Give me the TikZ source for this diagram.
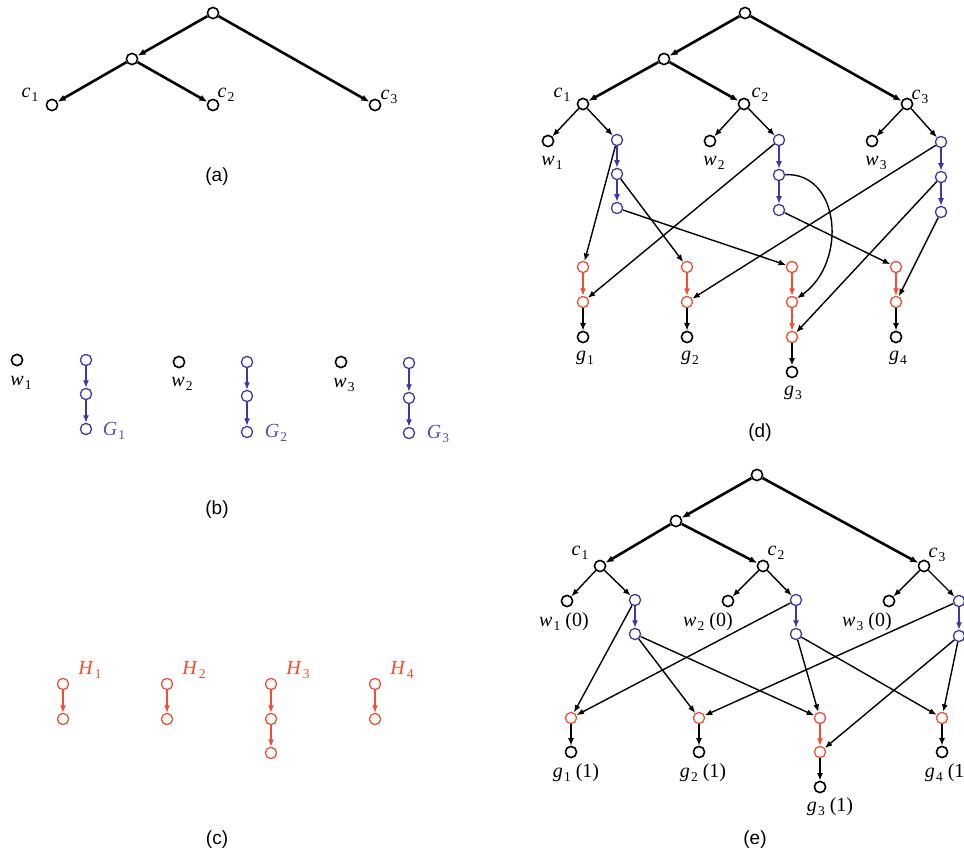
\documentclass[tikz,border=0pt]{standalone}
\usepackage{fontspec}
\setmainfont{Liberation Serif}
\newfontfamily\capfont{Liberation Sans}
\usetikzlibrary{arrows.meta}

\definecolor{gblue}{RGB}{58,58,160}
\definecolor{gbluetxt}{RGB}{80,80,180}
\definecolor{hred}{RGB}{240,78,48}

% italic letter with an upright index
\newcommand{\idx}[2]{\textit{#1}\kern1.2pt\raisebox{-0.42ex}{\fontsize{13.5}{13.5}\selectfont #2}}

\tikzset{
  vtx/.style={circle, inner sep=0pt, minimum size=11.2pt, fill=white},
  cn/.style={vtx, draw=black, line width=1.6pt},
  bn/.style={vtx, draw=gblue, line width=1.3pt},
  rn/.style={vtx, draw=hred, line width=1.3pt},
  thk/.style={line width=2.6pt, -{Latex[length=8pt,width=6.5pt]}},
  thn/.style={line width=1.4pt, -{Latex[length=7.5pt,width=6pt]}},
  bar/.style={gblue, line width=1.3pt, -{Latex[length=7.5pt,width=6pt]}},
  rar/.style={hred, line width=1.3pt, -{Latex[length=7.5pt,width=6pt]}},
  lab/.style={inner sep=0pt, font=\fontsize{20}{20}\selectfont},
  captxt/.style={inner sep=0pt, font=\capfont\fontsize{19}{19}\selectfont},
}

\begin{document}
\begin{tikzpicture}[x=1pt, y=-1pt]
\useasboundingbox (0,0) rectangle (964,853);
\fill[white] (0,0) rectangle (964,853);

% ---------------- (a) the tree of classes ----------------
\node[cn] (ar)  at (213,13)  {};
\node[cn] (am)  at (132,59)  {};
\node[cn] (ac1) at (52,105)  {};
\node[cn] (ac2) at (213,105) {};
\node[cn] (ac3) at (375,105) {};
\draw[thk] (ar) -- (am);
\draw[thk] (am) -- (ac1);
\draw[thk] (am) -- (ac2);
\draw[thk] (ar) -- (ac3);
\node[lab] (alc1) at (30,95)  {\idx{c}{1}};
\node[lab] (alc2) at (226,95) {\idx{c}{2}};
\node[lab] (alc3) at (389,97) {\idx{c}{3}};
\node[captxt] (capa) at (217,177) {(a)};

% ---------------- (b) words and G chains ----------------
\node[cn] (bw1) at (17,360)  {};
\node[cn] (bw2) at (179,362) {};
\node[cn] (bw3) at (341,362) {};
\node[lab] (blw1) at (21,383)  {\idx{w}{1}};
\node[lab] (blw2) at (182,384) {\idx{w}{2}};
\node[lab] (blw3) at (344,385) {\idx{w}{3}};

\node[bn] (bg1a) at (86,360)  {};
\node[bn] (bg1b) at (86,394)  {};
\node[bn] (bg1c) at (86,429)  {};
\node[bn] (bg2a) at (247,362) {};
\node[bn] (bg2b) at (247,396) {};
\node[bn] (bg2c) at (247,432) {};
\node[bn] (bg3a) at (409,363) {};
\node[bn] (bg3b) at (409,398) {};
\node[bn] (bg3c) at (409,433) {};
\draw[bar] (bg1a) -- (bg1b);
\draw[bar] (bg1b) -- (bg1c);
\draw[bar] (bg2a) -- (bg2b);
\draw[bar] (bg2b) -- (bg2c);
\draw[bar] (bg3a) -- (bg3b);
\draw[bar] (bg3b) -- (bg3c);
\node[lab, text=gbluetxt] (blg1) at (114,431) {\idx{G}{1}};
\node[lab, text=gbluetxt] (blg2) at (276,433) {\idx{G}{2}};
\node[lab, text=gbluetxt] (blg3) at (438,434) {\idx{G}{3}};
\node[captxt] (capb) at (217,510) {(b)};

% ---------------- (c) H chains ----------------
\node[rn] (ch1a) at (63,684)  {};
\node[rn] (ch1b) at (63,719)  {};
\node[rn] (ch2a) at (167,684) {};
\node[rn] (ch2b) at (167,719) {};
\node[rn] (ch3a) at (271,684) {};
\node[rn] (ch3b) at (271,719) {};
\node[rn] (ch3c) at (271,753) {};
\node[rn] (ch4a) at (375,684) {};
\node[rn] (ch4b) at (375,719) {};
\draw[rar] (ch1a) -- (ch1b);
\draw[rar] (ch2a) -- (ch2b);
\draw[rar] (ch3a) -- (ch3b);
\draw[rar] (ch3b) -- (ch3c);
\draw[rar] (ch4a) -- (ch4b);
\node[lab, text=hred] (clh1) at (90,670)  {\idx{H}{1}};
\node[lab, text=hred] (clh2) at (194,670) {\idx{H}{2}};
\node[lab, text=hred] (clh3) at (298,670) {\idx{H}{3}};
\node[lab, text=hred] (clh4) at (402,670) {\idx{H}{4}};
\node[captxt] (capc) at (217,840) {(c)};

% ---------------- (d) combined graph ----------------
\node[cn] (dr)  at (745,13)  {};
\node[cn] (dm)  at (664,59)  {};
\node[cn] (dc1) at (583,104) {};
\node[cn] (dc2) at (744,104) {};
\node[cn] (dc3) at (907,104) {};
\draw[thk] (dr) -- (dm);
\draw[thk] (dm) -- (dc1);
\draw[thk] (dm) -- (dc2);
\draw[thk] (dr) -- (dc3);
\node[lab] (dlc1) at (562,95) {\idx{c}{1}};
\node[lab] (dlc2) at (760,95) {\idx{c}{2}};
\node[lab] (dlc3) at (920,97) {\idx{c}{3}};

\node[cn] (dw1) at (548,141) {};
\node[cn] (dw2) at (710,141) {};
\node[cn] (dw3) at (872,141) {};
\node[lab] (dlw1) at (552,163) {\idx{w}{1}};
\node[lab] (dlw2) at (714,163) {\idx{w}{2}};
\node[lab] (dlw3) at (876,163) {\idx{w}{3}};

\node[bn] (d1a) at (617,140) {};
\node[bn] (d1b) at (617,174) {};
\node[bn] (d1c) at (617,208) {};
\node[bn] (d2a) at (779,140) {};
\node[bn] (d2b) at (779,175) {};
\node[bn] (d2c) at (779,210) {};
\node[bn] (d3a) at (941,142) {};
\node[bn] (d3b) at (941,177) {};
\node[bn] (d3c) at (941,212) {};

\node[rn] (dr1a) at (583,267) {};
\node[rn] (dr1b) at (583,302) {};
\node[rn] (dr2a) at (687,267) {};
\node[rn] (dr2b) at (687,302) {};
\node[rn] (dr3a) at (792,267) {};
\node[rn] (dr3b) at (792,302) {};
\node[rn] (dr3c) at (792,337) {};
\node[rn] (dr4a) at (896,267) {};
\node[rn] (dr4b) at (896,302) {};

\node[cn] (dg1) at (583,337) {};
\node[cn] (dg2) at (687,337) {};
\node[cn] (dg3) at (792,372) {};
\node[cn] (dg4) at (896,337) {};
\node[lab] (dlg1) at (585,358) {\idx{g}{1}};
\node[lab] (dlg2) at (690,358) {\idx{g}{2}};
\node[lab] (dlg3) at (793,393) {\idx{g}{3}};
\node[lab] (dlg4) at (898,358) {\idx{g}{4}};

\draw[thn] (dc1) -- (dw1);
\draw[thn] (dc1) -- (d1a);
\draw[thn] (dc2) -- (dw2);
\draw[thn] (dc2) -- (d2a);
\draw[thn] (dc3) -- (dw3);
\draw[thn] (dc3) -- (d3a);

\draw[bar] (d1a) -- (d1b);
\draw[bar] (d1b) -- (d1c);
\draw[bar] (d2a) -- (d2b);
\draw[bar] (d2b) -- (d2c);
\draw[bar] (d3a) -- (d3b);
\draw[bar] (d3b) -- (d3c);

\draw[rar] (dr1a) -- (dr1b);
\draw[rar] (dr2a) -- (dr2b);
\draw[rar] (dr3a) -- (dr3b);
\draw[rar] (dr3b) -- (dr3c);
\draw[rar] (dr4a) -- (dr4b);

\draw[thn] (d1a) -- (dr1a);
\draw[thn] (d1b) -- (dr2a);
\draw[thn] (d1c) -- (dr3a);
\draw[thn] (d2a) -- (dr1b);
\draw[thn] (d2b) .. controls (840,172) and (848,262) .. (dr3b);
\draw[thn] (d2c) -- (dr4a);
\draw[thn] (d3a) -- (dr2b);
\draw[thn] (d3b) -- (dr3c);
\draw[thn] (d3c) -- (dr4b);

\draw[thn] (dr1b) -- (dg1);
\draw[thn] (dr2b) -- (dg2);
\draw[thn] (dr3c) -- (dg3);
\draw[thn] (dr4b) -- (dg4);
\node[captxt] (capd) at (760,433) {(d)};

% ---------------- (e) reduced graph ----------------
\node[cn] (er)  at (757,475) {};
\node[cn] (em)  at (676,521) {};
\node[cn] (ec1) at (600,566) {};
\node[cn] (ec2) at (763,566) {};
\node[cn] (ec3) at (924,566) {};
\draw[thk] (er) -- (em);
\draw[thk] (em) -- (ec1);
\draw[thk] (em) -- (ec2);
\draw[thk] (er) -- (ec3);
\node[lab] (elc1) at (580,553) {\idx{c}{1}};
\node[lab] (elc2) at (776,553) {\idx{c}{2}};
\node[lab] (elc3) at (937,555) {\idx{c}{3}};

\node[cn] (ew1) at (567,601) {};
\node[cn] (ew2) at (728,601) {};
\node[cn] (ew3) at (889,601) {};
\node[lab] (elw1) at (564,622) {\idx{w}{1}\ (0)};
\node[lab] (elw2) at (708,622) {\idx{w}{2}\ (0)};
\node[lab] (elw3) at (867,622) {\idx{w}{3}\ (0)};

\node[bn] (e1a) at (635,600) {};
\node[bn] (e1b) at (635,634) {};
\node[bn] (e2a) at (796,600) {};
\node[bn] (e2b) at (796,634) {};
\node[bn] (e3a) at (959,601) {};
\node[bn] (e3b) at (959,636) {};

\node[rn] (er1)  at (571,718) {};
\node[rn] (er2)  at (699,718) {};
\node[rn] (er3a) at (820,718) {};
\node[rn] (er3b) at (820,752) {};
\node[rn] (er4)  at (942,718) {};

\node[cn] (eg1) at (571,752) {};
\node[cn] (eg2) at (699,752) {};
\node[cn] (eg3) at (820,787) {};
\node[cn] (eg4) at (942,752) {};
\node[lab] (elg1) at (576,773) {\idx{g}{1}\ (1)};
\node[lab] (elg2) at (703,773) {\idx{g}{2}\ (1)};
\node[lab] (elg3) at (830,807) {\idx{g}{3}\ (1)};
\node[lab] (elg4) at (948,773) {\idx{g}{4}\ (1)};

\draw[thn] (ec1) -- (ew1);
\draw[thn] (ec1) -- (e1a);
\draw[thn] (ec2) -- (ew2);
\draw[thn] (ec2) -- (e2a);
\draw[thn] (ec3) -- (ew3);
\draw[thn] (ec3) -- (e3a);

\draw[bar] (e1a) -- (e1b);
\draw[bar] (e2a) -- (e2b);
\draw[bar] (e3a) -- (e3b);

\draw[rar] (er3a) -- (er3b);

\draw[thn] (e1a) -- (er1);
\draw[thn] (e1b) -- (er2);
\draw[thn] (e1b) -- (er3a);
\draw[thn] (e2a) -- (er1);
\draw[thn] (e2b) -- (er3a);
\draw[thn] (e2b) -- (er4);
\draw[thn] (e3a) -- (er2);
\draw[thn] (e3b) -- (er3b);
\draw[thn] (e3b) -- (er4);

\draw[thn] (er1)  -- (eg1);
\draw[thn] (er2)  -- (eg2);
\draw[thn] (er3b) -- (eg3);
\draw[thn] (er4)  -- (eg4);
\node[captxt] (cape) at (755,840) {(e)};
\end{tikzpicture}
\end{document}
